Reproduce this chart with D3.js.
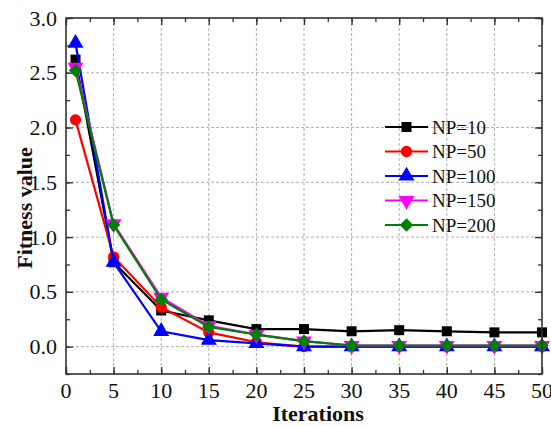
<!DOCTYPE html>
<html>
<head>
<meta charset="utf-8">
<script src="https://cdn.jsdelivr.net/npm/d3@7"></script>
<style>
  body { margin: 0; background: #fff; }
  svg { display: block; }
  svg text { font-family: "Liberation Serif", "Times New Roman", serif; }
</style>
</head>
<body>
<svg id="chart" width="551" height="426"></svg>
<script>
const iterations = [1, 5, 10, 15, 20, 25, 30, 35, 40, 45, 50];
const np10  = [2.62, 0.77, 0.33, 0.24, 0.16, 0.16, 0.14, 0.15, 0.14, 0.13, 0.13];
const np50  = [2.07, 0.82, 0.36, 0.13, 0.04, 0.00, 0.00, 0.00, 0.00, 0.00, 0.00];
const np100 = [2.77, 0.77, 0.14, 0.06, 0.03, 0.00, 0.00, 0.00, 0.00, 0.00, 0.00];
const np150 = [2.55, 1.12, 0.45, 0.19, 0.11, 0.05, 0.01, 0.01, 0.01, 0.01, 0.01];
const np200 = [2.52, 1.11, 0.43, 0.18, 0.11, 0.05, 0.01, 0.01, 0.01, 0.01, 0.01];
const seriesNames = ['NP=10', 'NP=50', 'NP=100', 'NP=150', 'NP=200'];
const xTicks = [0, 5, 10, 15, 20, 25, 30, 35, 40, 45, 50];
const yTicks = [0.0, 0.5, 1.0, 1.5, 2.0, 2.5, 3.0];

const series = [
  {name: seriesNames[0], values: np10,  color: '#000000', symbol: d3.symbolSquare,   size: 100, rot: 0},
  {name: seriesNames[1], values: np50,  color: '#ff0000', symbol: d3.symbolCircle,   size: 100, rot: 0},
  {name: seriesNames[2], values: np100, color: '#0000ff', symbol: d3.symbolTriangle, size: 110, rot: 0},
  {name: seriesNames[3], values: np150, color: '#ff00ff', symbol: d3.symbolTriangle, size: 110, rot: 180},
  {name: seriesNames[4], values: np200, color: '#008000', symbol: d3.symbolSquare,   size: 90,  rot: 45}
];

const svg = d3.select('#chart');
const pL = 66, pR = 542, pT = 18, pB = 374;
const serif = '"Liberation Serif", "Times New Roman", serif';

const x = d3.scaleLinear().domain([0, 50]).range([pL, pR]);
const y = d3.scaleLinear().domain([-0.25, 3.0]).range([pB, pT]);

// grid
const grid = svg.append('g').attr('stroke', '#b0b0b0').attr('stroke-dasharray', '3,2').attr('stroke-width', 1);
grid.selectAll('.gx').data(xTicks.filter(t => t > 0 && t < 50)).enter().append('line')
  .attr('x1', d => x(d)).attr('x2', d => x(d)).attr('y1', pT).attr('y2', pB);
grid.selectAll('.gy').data(yTicks.filter(t => t < 3)).enter().append('line')
  .attr('y1', d => y(d)).attr('y2', d => y(d)).attr('x1', pL).attr('x2', pR);

// axes (ticks inward)
const minorX = d3.range(0, 50.01, 2.5);
const minorY = d3.range(-0.25, 3.001, 0.25);
const frameColor = '#333';

function tickAxis(axisFn, scale, vals, size, pos) {
  const a = axisFn(scale).tickValues(vals).tickSizeInner(size).tickSizeOuter(0).tickFormat('');
  const g = svg.append('g').attr('transform', pos).call(a);
  g.select('.domain').remove();
  g.selectAll('line').attr('stroke', frameColor).attr('stroke-width', 1.3);
  return g;
}

tickAxis(d3.axisBottom, x, xTicks, -7, `translate(0,${pB})`);
tickAxis(d3.axisBottom, x, minorX, -4, `translate(0,${pB})`);
tickAxis(d3.axisTop, x, xTicks, -7, `translate(0,${pT})`);
tickAxis(d3.axisTop, x, minorX, -4, `translate(0,${pT})`);
tickAxis(d3.axisLeft, y, yTicks, -7, `translate(${pL},0)`);
tickAxis(d3.axisLeft, y, minorY, -4, `translate(${pL},0)`);
tickAxis(d3.axisRight, y, yTicks, -7, `translate(${pR},0)`);
tickAxis(d3.axisRight, y, minorY, -4, `translate(${pR},0)`);

svg.append('g').selectAll('text').data(xTicks).enter().append('text')
  .attr('x', d => x(d)).attr('y', pB + 24).attr('text-anchor', 'middle')
  .attr('font-family', serif).attr('font-size', 22).attr('fill', '#111').text(d => d);
svg.append('g').selectAll('text').data(yTicks).enter().append('text')
  .attr('x', pL - 9).attr('y', d => y(d) + 7.5).attr('text-anchor', 'end')
  .attr('font-family', serif).attr('font-size', 22).attr('fill', '#111').text(d => d.toFixed(1));

// lines and markers
const line = d3.line().x((d, i) => x(iterations[i])).y(d => y(d));

series.forEach(s => {
  const g = svg.append('g');
  g.append('path').datum(s.values).attr('d', line)
    .attr('fill', 'none').attr('stroke', s.color).attr('stroke-width', 2.2);
  g.selectAll('path.m').data(s.values).enter().append('path').attr('class', 'm')
    .attr('d', d3.symbol().type(s.symbol).size(s.size)())
    .attr('transform', (d, i) => `translate(${x(iterations[i])},${y(d)}) rotate(${s.rot})`)
    .attr('fill', s.color);
});

// frame
svg.append('rect').attr('x', pL).attr('y', pT).attr('width', pR - pL).attr('height', pB - pT)
  .attr('fill', 'none').attr('stroke', frameColor).attr('stroke-width', 1.6);

// legend
const leg = svg.append('g').attr('transform', 'translate(385,127)');
series.forEach((s, i) => {
  const row = leg.append('g').attr('transform', `translate(0,${i * 24.5})`);
  row.append('line').attr('x1', 0).attr('x2', 43).attr('y1', 0).attr('y2', 0)
    .attr('stroke', s.color).attr('stroke-width', 2.2);
  row.append('path').attr('d', d3.symbol().type(s.symbol).size(s.size)())
    .attr('transform', `translate(21.5,0) rotate(${s.rot})`).attr('fill', s.color);
  row.append('text').attr('x', 47).attr('y', 6.5).attr('font-family', serif)
    .attr('font-size', 19).attr('fill', '#111').text(s.name);
});

// axis titles
svg.append('text').attr('x', 318).attr('y', 421).attr('text-anchor', 'middle').attr('font-family', serif)
  .attr('font-size', 22).attr('font-weight', 'bold').attr('fill', '#111').text('Iterations');
svg.append('text').attr('transform', 'translate(32,208) rotate(-90)').attr('font-family', serif)
  .attr('text-anchor', 'middle').attr('font-size', 22).attr('font-weight', 'bold').attr('fill', '#111')
  .text('Fitness value');
</script>
</body>
</html>
